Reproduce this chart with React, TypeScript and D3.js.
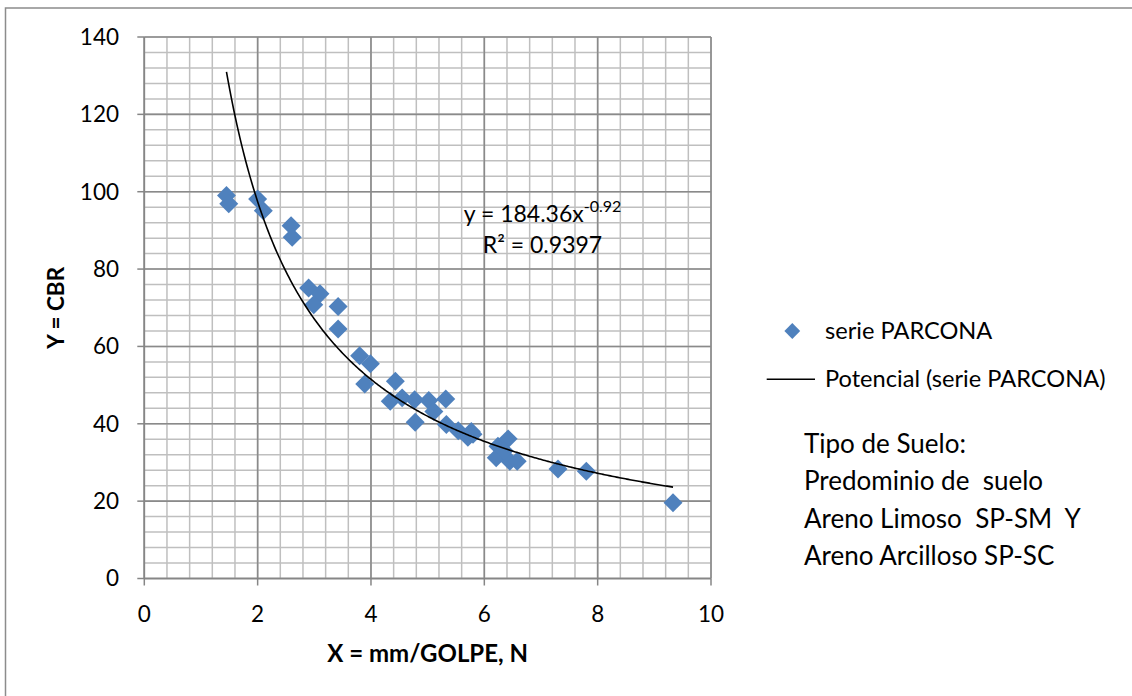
import React from "react";
import * as d3 from "d3";

// ---- data ----
const xValues: number[] = [
  1.45, 1.49, 2.0, 2.1, 2.59, 2.61, 2.9, 3.1, 2.99, 3.42, 3.42, 3.8, 3.99, 3.89,
  4.43, 4.34, 4.55, 4.77, 5.02, 5.32, 5.11, 4.78, 5.33, 5.54, 5.77, 5.71, 5.8,
  6.24, 6.42, 6.21, 6.45, 6.58, 6.35, 7.3, 7.8, 9.33,
];
const yValues: number[] = [
  99.0, 96.9, 98.1, 95.1, 91.2, 88.2, 75.1, 73.6, 70.8, 70.3, 64.5, 57.6, 55.5,
  50.3, 51.0, 45.8, 46.7, 46.2, 46.0, 46.4, 43.2, 40.4, 39.8, 38.2, 38.0, 36.5,
  37.3, 34.2, 36.1, 31.2, 30.3, 30.3, 33.0, 28.3, 27.7, 19.6,
];
const xTicks: number[] = [0, 2, 4, 6, 8, 10];
const yTicks: number[] = [0, 20, 40, 60, 80, 100, 120, 140];
const trendCoef = 184.36;
const trendExp = -0.92;
const seriesName = "serie PARCONA";
const trendName = "Potencial (serie PARCONA)";
const eqMain = "y = 184.36x";
const eqSup = "-0.92";
const r2Label = "R² = 0.9397";
const soilLines: string[] = [
  "Tipo de Suelo:",
  "Predominio de  suelo",
  "Areno Limoso  SP-SM  Y",
  "Areno Arcilloso SP-SC",
];
const xTitle = "X = mm/GOLPE, N";
const yTitle = "Y = CBR";

const FONT = "Lato, 'Open Sans', sans-serif";

export default function App() {
  const W = 1132;
  const H = 696;
  const x = d3.scaleLinear().domain([0, 10]).range([144.3, 711]);
  const y = d3.scaleLinear().domain([0, 140]).range([578.5, 37]);

  const minorX = d3.range(0, 10.0001, 0.4);
  const minorY = d3.range(0, 140.0001, 4);

  const xMin = d3.min(xValues) as number;
  const xMax = d3.max(xValues) as number;
  const curveXs = d3.range(0, 301).map((i) => xMin + ((xMax - xMin) * i) / 300);
  const line = d3
    .line<number>()
    .x((v) => x(v))
    .y((v) => y(trendCoef * Math.pow(v, trendExp)))
    .curve(d3.curveLinear);

  const marker = d3.symbol(d3.symbolSquare, 180)() as string;
  const legendMarker = d3.symbol(d3.symbolSquare, 125)() as string;
  const blue = "#4F81BD";

  return (
    <>
      <style>{`body{margin:0}`}</style>
      <svg width={W} height={H} style={{ display: "block", background: "#fff" }} fontFamily={FONT}>
        {/* outer border */}
        <path d={`M5.5,${H + 5}V8H${W + 5}`} fill="none" stroke="#8c8c8c" strokeWidth={1.5} />

        {/* minor grid */}
        <g stroke="#bfbfbf" strokeWidth={1.5}>
          {minorX.map((v, i) => (
            <line key={"mx" + i} x1={x(v)} x2={x(v)} y1={y(0)} y2={y(140)} />
          ))}
          {minorY.map((v, i) => (
            <line key={"my" + i} x1={x(0)} x2={x(10)} y1={y(v)} y2={y(v)} />
          ))}
        </g>
        {/* major grid */}
        <g stroke="#8a8a8a" strokeWidth={1.6}>
          {xTicks.map((v) => (
            <line key={"Mx" + v} x1={x(v)} x2={x(v)} y1={y(0)} y2={y(140)} />
          ))}
          {yTicks.map((v) => (
            <line key={"My" + v} x1={x(0)} x2={x(10)} y1={y(v)} y2={y(v)} />
          ))}
        </g>
        {/* axes */}
        <g stroke="#868686" strokeWidth={1.5}>
          <line x1={x(0)} x2={x(0)} y1={y(0) + 0.5} y2={y(140)} />
          <line x1={x(0)} x2={x(10)} y1={y(0)} y2={y(0)} />
          {yTicks.map((v) => (
            <line key={"ty" + v} x1={x(0) - 7} x2={x(0)} y1={y(v)} y2={y(v)} />
          ))}
          {xTicks.map((v) => (
            <line key={"tx" + v} x1={x(v)} x2={x(v)} y1={y(0)} y2={y(0) + 7} />
          ))}
        </g>

        {/* tick labels */}
        <g fontSize={22.5} fill="#000">
          {yTicks.map((v) => (
            <text key={"ly" + v} x={119} y={y(v)} dy="0.35em" textAnchor="end">
              {v}
            </text>
          ))}
          {xTicks.map((v) => (
            <text key={"lx" + v} x={x(v)} y={622} textAnchor="middle">
              {v}
            </text>
          ))}
        </g>

        {/* axis titles */}
        <text x={(x(0) + x(10)) / 2} y={661.5} textAnchor="middle" fontSize={24} fontWeight="bold">
          {xTitle}
        </text>
        <text
          transform={`translate(64,${(y(0) + y(140)) / 2}) rotate(-90)`}
          textAnchor="middle"
          fontSize={22.5}
          fontWeight="bold"
        >
          {yTitle}
        </text>

        {/* points */}
        <g fill={blue}>
          {xValues.map((v, i) => (
            <path key={"p" + i} d={marker} transform={`translate(${x(v)},${y(yValues[i])}) rotate(45)`} />
          ))}
        </g>

        {/* trend line */}
        <path d={line(curveXs) as string} fill="none" stroke="#000" strokeWidth={1.6} />

        {/* equation */}
        <text x={542.5} y={221.5} textAnchor="middle" fontSize={23}>
          {eqMain}
          <tspan fontSize={16} dy={-10}>
            {eqSup}
          </tspan>
        </text>
        <text x={542.5} y={253} textAnchor="middle" fontSize={23}>
          {r2Label}
        </text>

        {/* legend */}
        <path d={legendMarker} fill={blue} transform="translate(792.3,331) rotate(45)" />
        <text x={825} y={338.5} fontSize={23.6}>
          {seriesName}
        </text>
        <line x1={766.7} x2={815} y1={379.3} y2={379.3} stroke="#000" strokeWidth={1.6} />
        <text x={825} y={387} fontSize={23.6}>
          {trendName}
        </text>

        {/* soil type note */}
        <g fontSize={26} style={{ whiteSpace: "pre" }}>
          {soilLines.map((s, i) => (
            <text key={"s" + i} x={804} y={452.5 + i * 37.5} xmlSpace="preserve">
              {s}
            </text>
          ))}
        </g>
      </svg>
    </>
  );
}
